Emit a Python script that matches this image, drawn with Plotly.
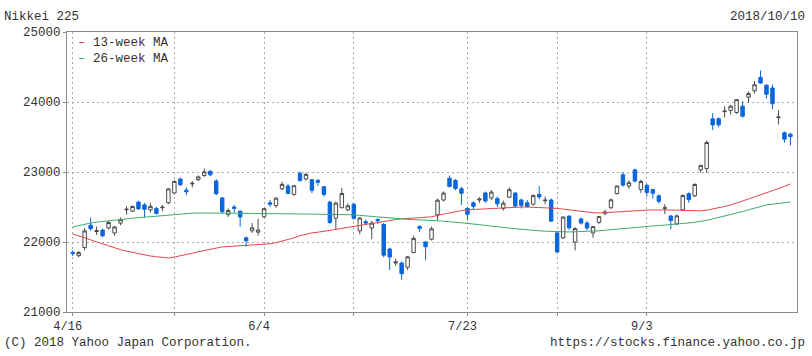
import plotly.graph_objects as go

dates = [
    "2018-04-16", "2018-04-17", "2018-04-18", "2018-04-19", "2018-04-20",
    "2018-04-23", "2018-04-24", "2018-04-25", "2018-04-26", "2018-04-27",
    "2018-05-01", "2018-05-02", "2018-05-07", "2018-05-08", "2018-05-09",
    "2018-05-10", "2018-05-11", "2018-05-14", "2018-05-15", "2018-05-16",
    "2018-05-17", "2018-05-18", "2018-05-21", "2018-05-22", "2018-05-23",
    "2018-05-24", "2018-05-25", "2018-05-28", "2018-05-29", "2018-05-30",
    "2018-05-31", "2018-06-01", "2018-06-04", "2018-06-05", "2018-06-06",
    "2018-06-07", "2018-06-08", "2018-06-11", "2018-06-12", "2018-06-13",
    "2018-06-14", "2018-06-15", "2018-06-18", "2018-06-19", "2018-06-20",
    "2018-06-21", "2018-06-22", "2018-06-25", "2018-06-26", "2018-06-27",
    "2018-06-28", "2018-06-29", "2018-07-02", "2018-07-03", "2018-07-04",
    "2018-07-05", "2018-07-06", "2018-07-09", "2018-07-10", "2018-07-11",
    "2018-07-12", "2018-07-13", "2018-07-17", "2018-07-18", "2018-07-19",
    "2018-07-20", "2018-07-23", "2018-07-24", "2018-07-25", "2018-07-26",
    "2018-07-27", "2018-07-30", "2018-07-31", "2018-08-01", "2018-08-02",
    "2018-08-03", "2018-08-06", "2018-08-07", "2018-08-08", "2018-08-09",
    "2018-08-10", "2018-08-13", "2018-08-14", "2018-08-15", "2018-08-16",
    "2018-08-17", "2018-08-20", "2018-08-21", "2018-08-22", "2018-08-23",
    "2018-08-24", "2018-08-27", "2018-08-28", "2018-08-29", "2018-08-30",
    "2018-08-31", "2018-09-03", "2018-09-04", "2018-09-05", "2018-09-06",
    "2018-09-07", "2018-09-10", "2018-09-11", "2018-09-12", "2018-09-13",
    "2018-09-14", "2018-09-18", "2018-09-19", "2018-09-20", "2018-09-21",
    "2018-09-25", "2018-09-26", "2018-09-27", "2018-09-28", "2018-10-01",
    "2018-10-02", "2018-10-03", "2018-10-04", "2018-10-05", "2018-10-09",
    "2018-10-10",
]

opens = [
    21850, 21805, 21920, 22240, 22150, 22170, 22200, 22130, 22270, 22460,
    22440, 22570, 22530, 22460, 22480, 22490, 22560, 22700, 22900, 22740,
    22830, 22890, 22950, 23010, 22870, 22630, 22390, 22500, 22440, 22060,
    22160, 22140, 22360, 22560, 22520, 22760, 22800, 22680, 22980, 22900,
    22890, 22880, 22790, 22570, 22340, 22490, 22460, 22540, 22160, 22290,
    22200, 22320, 22250, 21900, 21700, 21700, 21640, 21850, 22220, 22000,
    22040, 22390, 22600, 22910, 22880, 22760, 22480, 22560, 22600, 22700,
    22630, 22620, 22480, 22640, 22700, 22600, 22560, 22540, 22680, 22590,
    22600, 22130, 22060, 22370, 22000, 22330, 22270, 22130, 22280, 22430,
    22490, 22690, 22960, 22800, 23030, 22750, 22810, 22750, 22660, 22480,
    22370, 22260, 22460, 22690, 22660, 23030, 23050, 23760, 23760, 23862,
    23880, 23850, 23940, 24070, 24160, 24350, 24240, 24200, 23778, 23560,
    23540,
]

highs = [
    21880, 21870, 22200, 22350, 22220, 22190, 22300, 22230, 22350, 22510,
    22520, 22590, 22560, 22560, 22500, 22530, 22770, 22880, 22920, 22780,
    22870, 22950, 23050, 23030, 22900, 22640, 22480, 22530, 22450, 22080,
    22270, 22330, 22490, 22600, 22640, 22860, 22830, 22810, 23010, 22990,
    22900, 22900, 22800, 22580, 22580, 22770, 22550, 22550, 22360, 22320,
    22300, 22340, 22270, 21920, 21760, 21720, 21800, 22090, 22240, 22010,
    22220, 22620, 22720, 22950, 22900, 22790, 22500, 22580, 22640, 22720,
    22740, 22650, 22590, 22780, 22710, 22620, 22600, 22680, 22800, 22650,
    22620, 22140, 22370, 22380, 22210, 22350, 22300, 22230, 22370, 22460,
    22620, 22810, 23000, 22880, 23050, 22890, 22830, 22760, 22680, 22540,
    22390, 22390, 22680, 22710, 22840, 23100, 23450, 23840, 23780, 23940,
    23960, 24040, 24010, 24150, 24300, 24450, 24250, 24250, 23880, 23580,
    23560,
]

lows = [
    21800, 21780, 21880, 22160, 22100, 22070, 22180, 22090, 22240, 22390,
    22430, 22460, 22350, 22420, 22390, 22440, 22540, 22680, 22800, 22670,
    22780, 22870, 22930, 22940, 22670, 22400, 22360, 22420, 22220, 21930,
    22130, 22090, 22340, 22500, 22490, 22740, 22690, 22660, 22860, 22880,
    22700, 22800, 22650, 22260, 22170, 22480, 22440, 22320, 22110, 22250,
    22040, 22260, 21780, 21600, 21660, 21460, 21600, 21840, 22140, 21740,
    22020, 22310, 22580, 22780, 22740, 22530, 22310, 22470, 22560, 22560,
    22600, 22500, 22450, 22630, 22500, 22480, 22490, 22520, 22610, 22540,
    22290, 21850, 22040, 22170, 21880, 22250, 22170, 22060, 22260, 22380,
    22470, 22680, 22790, 22760, 22850, 22700, 22650, 22620, 22550, 22400,
    22180, 22240, 22440, 22560, 22640, 22990, 22990, 23600, 23640, 23780,
    23820, 23830, 23780, 23990, 24120, 24260, 24050, 23900, 23680, 23420,
    23380,
]

closes = [
    21836, 21848, 22158, 22191, 22162, 22088, 22278, 22215, 22320, 22468,
    22508, 22473, 22467, 22509, 22409, 22497, 22758, 22866, 22818, 22717,
    22838, 22930, 23002, 22960, 22690, 22437, 22451, 22481, 22358, 22018,
    22202, 22171, 22476, 22540, 22626, 22823, 22694, 22804, 22878, 22966,
    22739, 22852, 22680, 22278, 22555, 22693, 22517, 22338, 22342, 22272,
    22270, 22305, 21812, 21786, 21717, 21547, 21788, 22052, 22197, 21932,
    22188, 22597, 22698, 22794, 22765, 22697, 22397, 22510, 22614, 22587,
    22713, 22545, 22554, 22747, 22513, 22525, 22507, 22663, 22644, 22598,
    22298, 21857, 22356, 22204, 22192, 22270, 22199, 22220, 22363, 22411,
    22602, 22800, 22813, 22848, 22870, 22865, 22707, 22697, 22581, 22488,
    22307, 22373, 22665, 22605, 22821, 23095, 23421, 23673, 23675, 23870,
    23940, 24034, 23797, 24120, 24246, 24271, 24111, 23976, 23784, 23469,
    23506,
]

ma13 = [
    22114, 22090, 22060, 22030, 22000, 21975, 21950, 21920, 21890, 21870,
    21850, 21835, 21815, 21800, 21790, 21780, 21771, 21785, 21800, 21820,
    21840, 21860, 21880, 21900, 21920, 21930, 21935, 21940, 21945, 21950,
    21955, 21957, 21960, 21975, 21990, 22010, 22030, 22060, 22090, 22115,
    22130, 22140, 22150, 22165, 22180, 22195, 22210, 22225, 22240, 22255,
    22270, 22285, 22300, 22310, 22320, 22330, 22335, 22340, 22345, 22350,
    22360, 22380, 22400, 22420, 22435, 22450, 22460, 22465, 22470, 22478,
    22485, 22490, 22495, 22500, 22500, 22500, 22500, 22498, 22495, 22490,
    22485, 22480, 22470, 22458, 22446, 22435, 22425, 22418, 22414, 22420,
    22428, 22435, 22440, 22445, 22450, 22452, 22455, 22458, 22460, 22460,
    22458, 22455, 22450, 22446, 22443, 22445, 22455, 22470, 22488, 22508,
    22529, 22555, 22585, 22615, 22645, 22672, 22700, 22730, 22762, 22795,
    22829,
]

ma26 = [
    22214, 22235, 22255, 22271, 22283, 22294, 22305, 22315, 22325, 22332,
    22340, 22347, 22355, 22362, 22369, 22376, 22384, 22392, 22400, 22407,
    22412, 22414, 22415, 22415, 22415, 22414, 22413, 22412, 22410, 22408,
    22406, 22405, 22404, 22403, 22402, 22401, 22400, 22400, 22400, 22400,
    22399, 22398, 22397, 22396, 22395, 22393, 22391, 22388, 22380, 22372,
    22364, 22356, 22348, 22340, 22333, 22328, 22324, 22320, 22317, 22315,
    22312, 22305, 22298, 22290, 22283, 22276, 22270, 22259, 22248, 22237,
    22226, 22215, 22206, 22198, 22190, 22182, 22172, 22166, 22160, 22154,
    22149, 22144, 22143, 22144, 22146, 22148, 22151, 22155, 22160, 22168,
    22176, 22185, 22195, 22205, 22214, 22219, 22224, 22229, 22234, 22240,
    22245, 22253, 22262, 22272, 22282, 22292, 22310, 22330, 22350, 22368,
    22386, 22410, 22435, 22460, 22485, 22510, 22529, 22540, 22550, 22561,
    22571,
]

tick_dates = ["2018-04-16", "2018-05-14", "2018-06-04", "2018-06-25",
              "2018-07-23", "2018-08-13", "2018-09-03"]
tick_labels = ["4/16", "", "6/4", "", "7/23", "", "9/3"]
y_ticks = [21000, 22000, 23000, 24000, 25000]

FONT = "Liberation Mono, DejaVu Sans Mono, monospace"
TXT = "#333333"
RED = "#e04848"
GREEN = "#3daa6e"
BLUE = "#0a66dc"
GRAY = "#4a4a4a"
GRID = "#a8a8a8"
AXIS = "#8a8a8a"

fig = go.Figure()
fig.add_trace(go.Candlestick(
    x=dates, open=opens, high=highs, low=lows, close=closes,
    increasing=dict(line=dict(color=GRAY, width=1), fillcolor="white"),
    decreasing=dict(line=dict(color=BLUE, width=1), fillcolor=BLUE),
    whiskerwidth=0, name="Nikkei 225", showlegend=False,
))
fig.add_trace(go.Scatter(x=dates, y=ma13, mode="lines", name="13-week MA",
                         line=dict(color=RED, width=1), showlegend=False))
fig.add_trace(go.Scatter(x=dates, y=ma26, mode="lines", name="26-week MA",
                         line=dict(color=GREEN, width=1), showlegend=False))

fig.update_layout(
    width=812, height=356,
    margin=dict(l=67, r=15, t=32, b=44),
    paper_bgcolor="white", plot_bgcolor="white",
    font=dict(family=FONT, size=12, color=TXT),
    boxgap=0.18,
    xaxis=dict(
        type="category", range=[-0.95, 121.1],
        rangeslider=dict(visible=False),
        tickmode="array", tickvals=tick_dates, ticktext=tick_labels,
        showgrid=True, gridcolor=GRID, griddash="2px,3px", gridwidth=1,
        ticks="outside", ticklen=3, tickcolor=AXIS,
        showline=True, linecolor=AXIS, linewidth=1, mirror=True,
        tickfont=dict(family=FONT, size=12, color=TXT),
        ticklabelshift=-5,
    ),
    yaxis=dict(
        range=[21000, 25000], tickmode="array", tickvals=y_ticks,
        ticktext=[str(v) for v in y_ticks],
        showgrid=True, gridcolor=GRID, griddash="2px,3px", gridwidth=1,
        ticks="outside", ticklen=3, tickcolor=AXIS,
        showline=True, linecolor=AXIS, linewidth=1, mirror=True,
        tickfont=dict(family=FONT, size=12.5, color=TXT),
        zeroline=False,
    ),
    showlegend=False,
)

ann = [
    dict(text="Nikkei 225", x=-0.088, y=1.053, xanchor="left"),
    dict(text="2018/10/10", x=1.013, y=1.053, xanchor="right"),
    dict(text="(C) 2018 Yahoo Japan Corporation.", x=-0.088, y=-0.11, xanchor="left"),
    dict(text="https://stocks.finance.yahoo.co.jp", x=1.013, y=-0.11, xanchor="right"),
    dict(text=f"<span style='color:{RED}'>–</span> 13-week MA", x=0.014, y=0.96, xanchor="left"),
    dict(text=f"<span style='color:{GREEN}'>–</span> 26-week MA", x=0.014, y=0.903, xanchor="left"),
]
for a in ann:
    fig.add_annotation(xref="paper", yref="paper", showarrow=False,
                       yanchor="middle", borderpad=0,
                       font=dict(family=FONT, size=12.5, color=TXT), **a)

fig.write_html("out.html")
